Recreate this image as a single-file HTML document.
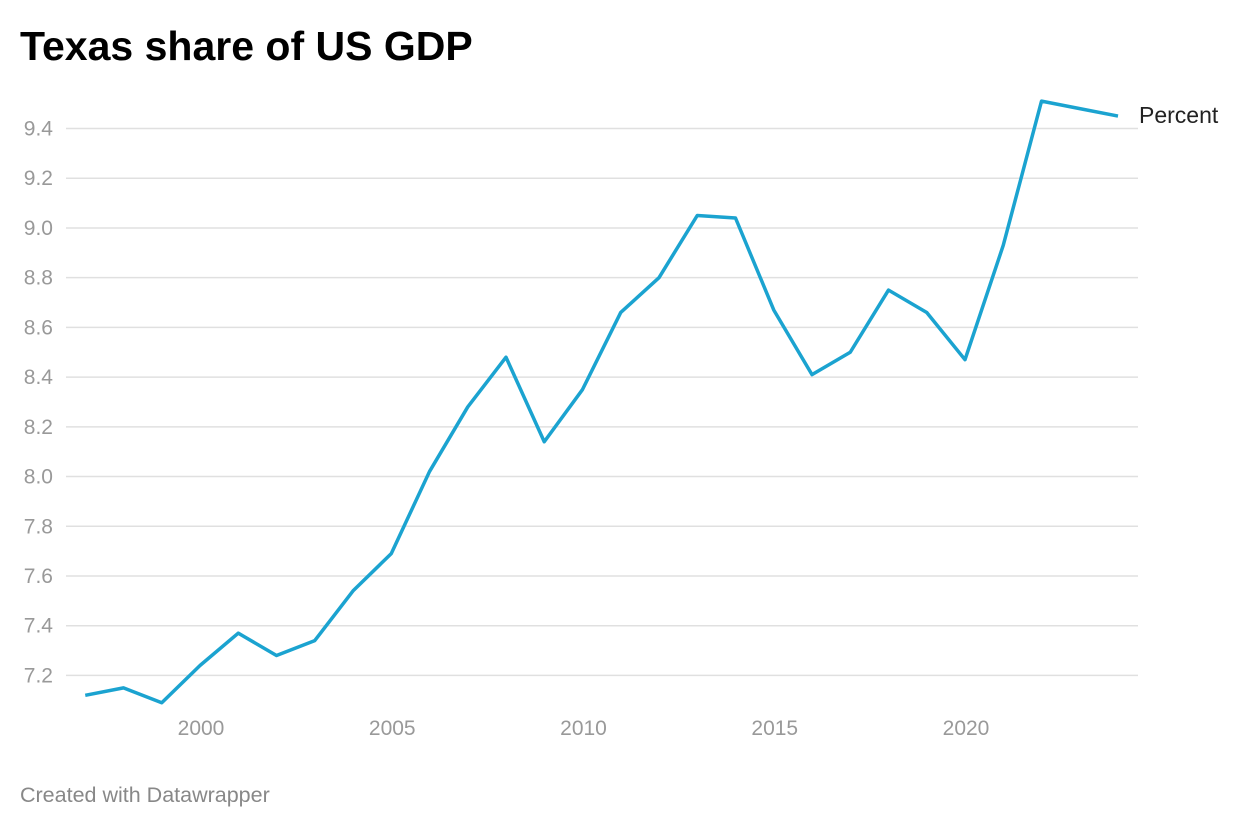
<!DOCTYPE html>
<html><head><meta charset="utf-8"><style>
html,body{margin:0;padding:0;background:#fff;width:1240px;height:828px;overflow:hidden;font-family:"Liberation Sans",sans-serif}
</style></head><body>
<svg id="chart" width="1240" height="828">
<text x="20" y="60" font-size="41" font-weight="bold" fill="#000">Texas share of US GDP</text>
<g id="grid"></g><g id="xaxis"></g>
<path id="line" fill="none" stroke="#1ba3d0" stroke-width="3.5" stroke-linejoin="round"/>
<text x="1139" y="123" font-size="23" fill="#222">Percent</text>
<text x="20" y="802" font-size="21.5" fill="#888">Created with Datawrapper</text>
</svg>
<script>
const years=[1997,1998,1999,2000,2001,2002,2003,2004,2005,2006,2007,2008,2009,2010,2011,2012,2013,2014,2015,2016,2017,2018,2019,2020,2021,2022,2023,2024];
const values=[7.12,7.15,7.09,7.24,7.37,7.28,7.34,7.54,7.69,8.02,8.28,8.48,8.14,8.35,8.66,8.80,9.05,9.04,8.67,8.41,8.50,8.75,8.66,8.47,8.93,9.51,9.48,9.45];
const yTicks=[7.2,7.4,7.6,7.8,8.0,8.2,8.4,8.6,8.8,9.0,9.2,9.4];
const xTicks=[2000,2005,2010,2015,2020];
const ns="http://www.w3.org/2000/svg";
const xs=y=>85.25+(y-1997)*38.25;
const ys=v=>128.5+(9.4-v)*248.6;
const grid=document.getElementById('grid');
yTicks.forEach(t=>{
 const l=document.createElementNS(ns,'line');
 l.setAttribute('x1',66);l.setAttribute('x2',1138);l.setAttribute('y1',ys(t));l.setAttribute('y2',ys(t));
 l.setAttribute('stroke','#e0e0e0');l.setAttribute('stroke-width','1.5');
 
 
 grid.appendChild(l);
 const tx=document.createElementNS(ns,'text');
 tx.setAttribute('x',53);tx.setAttribute('y',ys(t)+7);tx.setAttribute('font-size','21');tx.setAttribute('fill','#999');tx.setAttribute('text-anchor','end');
 tx.textContent=t.toFixed(1);
 
 
 grid.appendChild(tx);
});
const xa=document.getElementById('xaxis');
xTicks.forEach(t=>{
 const tx=document.createElementNS(ns,'text');
 tx.setAttribute('x',xs(t)+1);tx.setAttribute('y',735);tx.setAttribute('font-size','21');tx.setAttribute('fill','#999');tx.setAttribute('text-anchor','middle');
 tx.textContent=t;
 
 
 xa.appendChild(tx);
});
document.getElementById('line').setAttribute('d',years.map((y,i)=>(i?'L':'M')+xs(y)+','+ys(values[i])).join(''));
</script>
</body></html>
